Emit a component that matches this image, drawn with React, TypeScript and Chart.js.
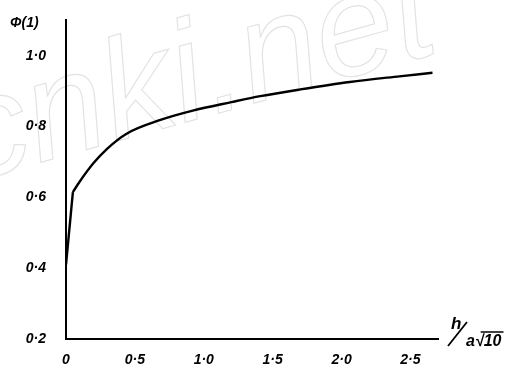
import { useEffect, useRef } from "react";
import { Chart, registerables } from "chart.js";

Chart.register(...registerables);

// h / (a√10)
const xValues = [0, 0.05, 0.1, 0.2, 0.3, 0.44, 0.68, 0.92, 1.2, 1.41, 1.7, 2.06, 2.42, 2.66];
// Φ(1)
const phiValues = [0.41, 0.615, 0.645, 0.697, 0.738, 0.78, 0.818, 0.845, 0.869, 0.886, 0.905, 0.926, 0.942, 0.952];
// the curve has a sharp corner at this point: a straight rise before it, a smooth arc after it
const cornerIndex = 1;

const xTicks = [0, 0.5, 1.0, 1.5, 2.0, 2.5];
const xTickLabels = ["0", "0·5", "1·0", "1·5", "2·0", "2·5"];
const yTicks = [0.2, 0.4, 0.6, 0.8, 1.0];
const yTickLabels = ["0·2", "0·4", "0·6", "0·8", "1·0"];

const yTitle = "Φ(1)";
const xTitleTop = "h";
const xTitleBottom = "a√10";
const watermark = "cnki.net";

const FONT = "'Liberation Sans', 'DejaVu Sans', sans-serif";

export default function App() {
  const ref = useRef<HTMLCanvasElement | null>(null);

  useEffect(() => {
    if (!ref.current) return;

    const pts = xValues.map((x, i) => ({ x, y: phiValues[i] }));

    const decor = {
      id: "decor",
      beforeDraw(chart: any) {
        const ctx = chart.ctx;
        ctx.save();
        ctx.fillStyle = "#ffffff";
        ctx.fillRect(0, 0, chart.width, chart.height);
        ctx.strokeStyle = "#e2e2e2";
        ctx.lineWidth = 1.1;
        ctx.translate(-30, 182);
        ctx.rotate(-0.27);
        ctx.font = `italic 142px 'Liberation Sans', sans-serif`;
        ctx.textBaseline = "alphabetic";
        ctx.strokeText(watermark, 0, 0);
        ctx.restore();
      },
      afterDraw(chart: any) {
        const ctx = chart.ctx;
        const xs = chart.scales.x;
        const ys = chart.scales.y;
        ctx.save();
        ctx.fillStyle = "#000";
        ctx.strokeStyle = "#000";
        // y title
        ctx.font = `italic bold 14px ${FONT}`;
        ctx.textAlign = "left";
        ctx.textBaseline = "alphabetic";
        ctx.fillText(yTitle, 10, 27);
        // x title
        const x0 = xs.right + 12;
        const y0 = ys.bottom;
        ctx.font = `italic bold 17px ${FONT}`;
        ctx.fillText(xTitleTop, x0 + 1, y0 - 10);
        ctx.lineWidth = 1.8;
        ctx.beginPath();
        ctx.moveTo(x0 - 2, y0 + 7);
        ctx.lineTo(x0 + 17, y0 - 17);
        ctx.stroke();
        ctx.font = `italic bold 16px ${FONT}`;
        ctx.fillText(xTitleBottom, x0 + 16, y0 + 7);
        const w1 = ctx.measureText("a√").width;
        const w2 = ctx.measureText(xTitleBottom).width;
        ctx.lineWidth = 1.5;
        ctx.beginPath();
        ctx.moveTo(x0 + 16 + w1 - 3, y0 - 7);
        ctx.lineTo(x0 + 16 + w2 + 2, y0 - 7);
        ctx.stroke();
        ctx.restore();
      },
    };

    const chart = new Chart(ref.current, {
      type: "scatter",
      data: {
        datasets: [
          {
            data: pts.slice(0, cornerIndex + 1),
            showLine: true,
            borderColor: "#000",
            borderWidth: 2.4,
            pointRadius: 0,
            tension: 0,
          },
          {
            data: pts.slice(cornerIndex),
            showLine: true,
            borderColor: "#000",
            borderWidth: 2.4,
            pointRadius: 0,
            cubicInterpolationMode: "monotone",
          },
        ],
      },
      options: {
        animation: false,
        responsive: false,
        events: [],
        layout: { padding: { top: 15, right: 91, left: 0, bottom: 0 } },
        plugins: { legend: { display: false }, tooltip: { enabled: false } },
        scales: {
          x: {
            type: "linear",
            min: 0,
            max: 2.7,
            afterBuildTicks: (s: any) => {
              s.ticks = xTicks.map((v) => ({ value: v }));
            },
            afterFit: (s: any) => {
              s.height = 34;
            },
            border: { color: "#000", width: 2 },
            grid: { display: false },
            ticks: {
              color: "#000",
              padding: 5,
              font: { family: FONT, size: 14, style: "italic", weight: "bold" },
              callback: (v: any) => {
                const i = xTicks.findIndex((t) => Math.abs(t - v) < 1e-6);
                return i >= 0 ? xTickLabels[i] : "";
              },
            },
          },
          y: {
            type: "linear",
            min: 0.2,
            max: 1.1,
            afterBuildTicks: (s: any) => {
              s.ticks = yTicks.map((v) => ({ value: v }));
            },
            afterFit: (s: any) => {
              s.width = 66;
            },
            border: { color: "#000", width: 2 },
            grid: { display: false },
            ticks: {
              color: "#000",
              padding: 12,
              font: { family: FONT, size: 14, style: "italic", weight: "bold" },
              callback: (v: any) => {
                const i = yTicks.findIndex((t) => Math.abs(t - v) < 1e-6);
                return i >= 0 ? yTickLabels[i] : "";
              },
            },
          },
        },
      },
      plugins: [decor],
    } as any);

    return () => chart.destroy();
  }, []);

  return (
    <div style={{ position: "absolute", left: 0, top: 0, width: 529, height: 373 }}>
      <canvas ref={ref} width={529} height={373} style={{ display: "block" }} />
    </div>
  );
}
